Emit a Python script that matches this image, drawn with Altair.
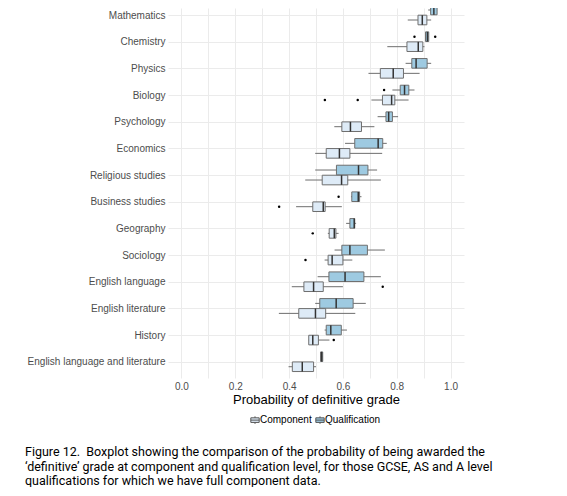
import pandas as pd
import altair as alt

# subjects from top to bottom
subjects = [
    "Mathematics", "Chemistry", "Physics", "Biology", "Psychology",
    "Economics", "Religious studies", "Business studies", "Geography",
    "Sociology", "English language", "English literature", "History",
    "English language and literature",
]
groups = ["Component", "Qualification"]

# five-number summaries (whisker low, q1, median, q3, whisker high)
comp_lo = [0.841, 0.765, 0.695, 0.706, 0.568, 0.497, 0.460, 0.426, 0.544, 0.532, 0.410, 0.362, 0.473, 0.398]
comp_q1 = [0.879, 0.838, 0.739, 0.747, 0.596, 0.538, 0.523, 0.488, 0.549, 0.545, 0.455, 0.436, 0.473, 0.412]
comp_med = [0.895, 0.880, 0.787, 0.781, 0.628, 0.587, 0.595, 0.527, 0.568, 0.560, 0.491, 0.498, 0.488, 0.449]
comp_q3 = [0.912, 0.897, 0.825, 0.793, 0.669, 0.626, 0.618, 0.534, 0.574, 0.600, 0.527, 0.536, 0.509, 0.491]
comp_hi = [0.928, 0.903, 0.885, 0.844, 0.717, 0.746, 0.741, 0.596, 0.584, 0.635, 0.600, 0.646, 0.550, 0.500]

qual_lo = [0.917, 0.907, 0.833, 0.784, 0.729, 0.608, 0.497, 0.630, 0.612, 0.569, 0.506, 0.497, 0.532, 0.517]
qual_q1 = [0.926, 0.907, 0.856, 0.813, 0.760, 0.644, 0.576, 0.633, 0.626, 0.596, 0.548, 0.514, 0.538, 0.517]
qual_med = [0.938, 0.914, 0.872, 0.829, 0.770, 0.731, 0.658, 0.657, 0.642, 0.626, 0.608, 0.575, 0.555, 0.521]
qual_q3 = [0.950, 0.919, 0.913, 0.845, 0.784, 0.748, 0.693, 0.662, 0.644, 0.691, 0.678, 0.638, 0.594, 0.525]
qual_hi = [0.950, 0.919, 0.928, 0.866, 0.805, 0.763, 0.727, 0.669, 0.649, 0.756, 0.741, 0.685, 0.615, 0.525]

# outlying points
out_subject = ["Chemistry", "Chemistry", "Biology", "Biology", "Biology", "Business studies",
               "Business studies", "Geography", "Sociology", "English language", "History"]
out_group = ["Qualification", "Qualification", "Qualification", "Component", "Component",
             "Qualification", "Component", "Component", "Component", "Component", "Component"]
out_value = [0.866, 0.943, 0.753, 0.533, 0.655, 0.584, 0.363, 0.488, 0.461, 0.748, 0.566]

# dodge: Qualification sits above the category line, Component below
dodge = {"Component": 0.1875, "Qualification": -0.1875}
half = 0.18

rows = []
for i, s in enumerate(subjects):
    for g, lo, q1, med, q3, hi in [
        ("Component", comp_lo[i], comp_q1[i], comp_med[i], comp_q3[i], comp_hi[i]),
        ("Qualification", qual_lo[i], qual_q1[i], qual_med[i], qual_q3[i], qual_hi[i]),
    ]:
        pos = i + dodge[g]
        rows.append(dict(subject=s, group=g, lo=lo, q1=q1, med=med, q3=q3, hi=hi,
                         pos=pos, top=pos - half, bot=pos + half))
boxes = pd.DataFrame(rows)

outliers = pd.DataFrame({"subject": out_subject, "group": out_group, "value": out_value})
outliers["pos"] = [subjects.index(s) + dodge[g] for s, g in zip(out_subject, out_group)]

x_scale = alt.Scale(domain=[-0.05, 1.05], nice=False, zero=False)
y_scale = alt.Scale(domain=[-0.2625, 13.61], reverse=True, nice=False, zero=False)

label_list = "[" + ",".join("'%s'" % s for s in subjects) + "]"

x_axis = alt.Axis(
    values=[0.0, 0.1, 0.2, 0.3, 0.4, 0.5, 0.6, 0.7, 0.8, 0.9, 1.0],
    labelExpr="round(datum.value * 10) % 2 == 0 ? format(datum.value, '.1f') : ''",
    grid=True, gridColor="#ebebeb", ticks=False, domain=False,
    labelFont="Liberation Sans", labelFontSize=10, labelColor="#4d4d4d", labelPadding=3,
    titleFont="Liberation Sans", titleFontSize=13, titleFontWeight="normal",
    titleColor="black", titlePadding=2,
)
y_axis = alt.Axis(
    values=list(range(len(subjects))),
    labelExpr=label_list + "[round(datum.value)]",
    grid=True, gridColor="#ebebeb", ticks=False, domain=False,
    labelFont="Liberation Sans", labelFontSize=10, labelColor="#4d4d4d", labelPadding=3,
)


def X(field):
    return alt.X(field, type="quantitative", scale=x_scale, axis=x_axis,
                 title="Probability of definitive grade")


def Y(field):
    return alt.Y(field, type="quantitative", scale=y_scale, axis=y_axis, title="")


# whiskers
whiskers = alt.Chart(boxes).mark_rule(color="#6e6e6e", strokeWidth=1).encode(
    x=X("lo"), x2="hi:Q", y=Y("pos"),
)

# boxes coloured by level
rects = alt.Chart(boxes).mark_rect(stroke="#6e6e6e", strokeWidth=1).encode(
    x=X("q1"), x2="q3:Q", y=Y("top"), y2="bot:Q",
    fill=alt.Fill(
        "group:N",
        scale=alt.Scale(domain=groups, range=["#deebf7", "#9ecae1"]),
        legend=alt.Legend(
            title=None, orient="none", legendX=82, legendY=407, direction="horizontal",
            symbolType="M-1,-0.55H1V0.55H-1Z M-1,0H1 M0,-0.55V-0.9 M0,0.55V0.9",
            symbolSize=70, symbolStrokeColor="#555555", symbolStrokeWidth=1,
            labelFont="Liberation Sans", labelFontSize=10, labelColor="black",
            labelOffset=0, columnPadding=1,
        ),
    ),
)

medians = alt.Chart(boxes).mark_rule(color="#333333", strokeWidth=1.5).encode(
    x=X("med"), y=Y("top"), y2="bot:Q",
)

points = alt.Chart(outliers).mark_circle(size=6, color="black", opacity=1).encode(
    x=X("value"), y=Y("pos"),
)

caption = [
    "Figure 12.\u00a0 Boxplot showing the comparison of the probability of being awarded the",
    "\u2018definitive\u2019 grade at component and qualification level, for those GCSE, AS and A level",
    "qualifications for which we have full component data.",
]

chart = alt.layer(whiskers, rects, medians, points).properties(
    width=296,
    height=370,
    autosize=alt.AutoSizeParams(type="none"),
    padding={"left": 160, "top": 0, "right": 85, "bottom": 109},
    title=alt.TitleParams(
        text=caption, orient="bottom", anchor="start", frame="group",
        font="Roboto", fontSize=12.5, fontWeight="normal", color="black",
        lineHeight=14.5, dx=-143, offset=20,
    ),
).configure(background="white").configure_view(stroke=None)

chart.save("out.html", embed_options={"renderer": "svg", "actions": False})
